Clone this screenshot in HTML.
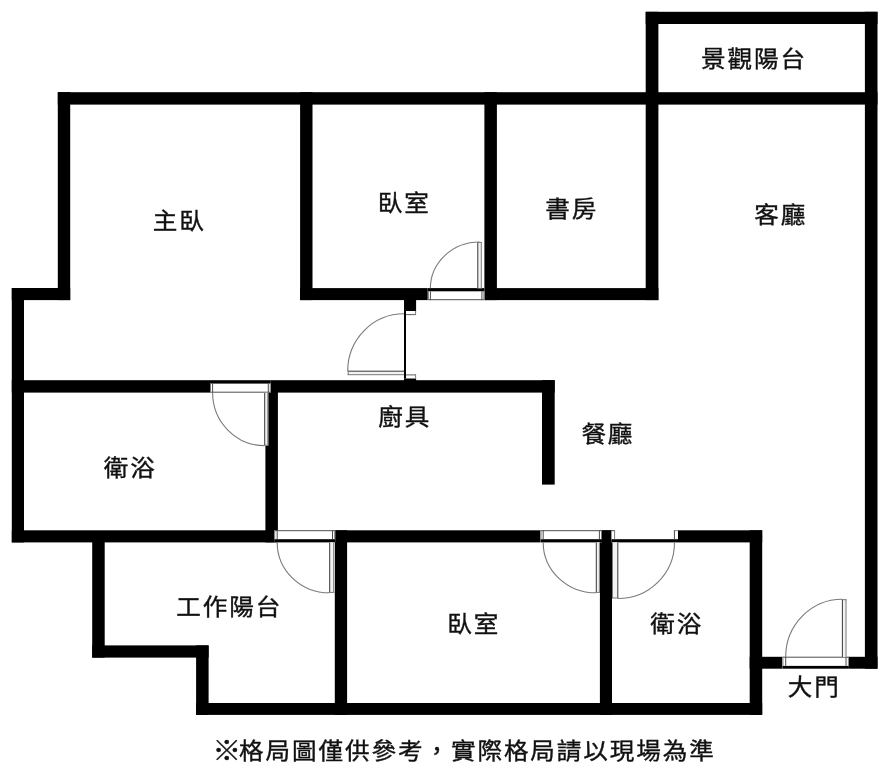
<!DOCTYPE html>
<html lang="zh-Hant">
<head>
<meta charset="utf-8">
<title>格局圖</title>
<style>
html,body{margin:0;padding:0;background:#fff;}
body{width:889px;height:780px;overflow:hidden;}
svg{display:block;will-change:transform;}
text{font-family:"Liberation Sans","Noto Sans CJK TC",sans-serif;font-size:24.6px;letter-spacing:1.9px;fill:#111;stroke:#111;stroke-width:.4px;}
</style>
</head>
<body>
<svg width="889" height="780" viewBox="0 0 889 780">
<rect width="889" height="780" fill="#fff"/>
<g id="walls">
<rect x="645.7" y="11.8" width="231.8" height="12.2" fill="#000"/>
<rect x="57.8" y="92.2" width="819.7" height="12.4" fill="#000"/>
<rect x="11.8" y="288.0" width="58.4" height="12.1" fill="#000"/>
<rect x="300.1" y="288.1" width="127.7" height="12.0" fill="#000"/>
<rect x="484.4" y="288.1" width="174.0" height="12.0" fill="#000"/>
<rect x="11.8" y="380.2" width="198.2" height="12.4" fill="#000"/>
<rect x="270.8" y="380.2" width="283.9" height="12.4" fill="#000"/>
<rect x="11.8" y="530.3" width="262.4" height="12.1" fill="#000"/>
<rect x="335.2" y="530.3" width="205.3" height="12.1" fill="#000"/>
<rect x="599.9" y="530.3" width="12.1" height="12.1" fill="#000"/>
<rect x="678.0" y="530.3" width="84.2" height="12.1" fill="#000"/>
<rect x="92.2" y="645.4" width="116.4" height="12.2" fill="#000"/>
<rect x="196.1" y="703.0" width="566.1" height="11.9" fill="#000"/>
<rect x="749.7" y="656.8" width="32.7" height="11.9" fill="#000"/>
<rect x="848.9" y="656.8" width="28.6" height="11.9" fill="#000"/>
<rect x="645.7" y="11.8" width="12.7" height="288.3" fill="#000"/>
<rect x="864.9" y="11.8" width="12.6" height="656.9" fill="#000"/>
<rect x="57.8" y="92.2" width="12.4" height="207.9" fill="#000"/>
<rect x="11.8" y="288.0" width="12.2" height="254.4" fill="#000"/>
<rect x="300.1" y="92.2" width="12.4" height="207.9" fill="#000"/>
<rect x="484.4" y="92.2" width="12.5" height="207.9" fill="#000"/>
<rect x="404.0" y="300.0" width="12.1" height="11.0" fill="#000"/>
<rect x="404.0" y="378.3" width="12.1" height="2.7" fill="#000"/>
<rect x="265.4" y="392.0" width="12.5" height="150.4" fill="#000"/>
<rect x="542.0" y="380.2" width="12.7" height="104.4" fill="#000"/>
<rect x="92.2" y="542.0" width="12.5" height="115.6" fill="#000"/>
<rect x="196.1" y="645.4" width="12.5" height="69.5" fill="#000"/>
<rect x="334.8" y="530.3" width="12.3" height="184.6" fill="#000"/>
<rect x="599.9" y="530.3" width="12.1" height="184.6" fill="#000"/>
<rect x="749.7" y="530.3" width="12.5" height="184.6" fill="#000"/>
</g>
<g id="doors">
<rect x="404.0" y="311.0" width="2.0" height="67.3" fill="#000"/>
<rect x="406.0" y="311.0" width="10.0" height="3.9" fill="#fff"/>
<line x1="406.0" y1="314.6" x2="416.0" y2="314.6" stroke="#4c4c4c" stroke-width="0.9"/>
<line x1="415.6" y1="311.0" x2="415.6" y2="314.9" stroke="#7c7c7c" stroke-width="1"/>
<rect x="406.0" y="374.6" width="10.0" height="3.7" fill="#fff"/>
<line x1="406.0" y1="374.9" x2="416.0" y2="374.9" stroke="#4c4c4c" stroke-width="0.9"/>
<line x1="415.6" y1="374.6" x2="415.6" y2="378.3" stroke="#7c7c7c" stroke-width="1"/>
<rect x="347.7" y="370.8" width="56.3" height="4.3" fill="#f2f2f2"/>
<line x1="347.7" y1="371.2" x2="404.0" y2="371.2" stroke="#3a3a3a" stroke-width="1"/>
<line x1="347.7" y1="374.7" x2="404.0" y2="374.7" stroke="#7c7c7c" stroke-width="1"/>
<line x1="348.2" y1="370.8" x2="348.2" y2="375.1" stroke="#7c7c7c" stroke-width="1"/>
<path d="M404.0 313.8A56.3 57.2 0 0 0 347.7 371.0" fill="none" stroke="#7a7a7a" stroke-width="1.1"/>
<rect x="427.9" y="288.1" width="56.5" height="12.0" fill="#fff"/>
<rect x="427.9" y="288.1" width="56.5" height="3.2" fill="#000"/>
<line x1="427.9" y1="299.7" x2="484.4" y2="299.7" stroke="#3a3a3a" stroke-width="0.9"/>
<line x1="428.4" y1="291.3" x2="428.4" y2="300.1" stroke="#7c7c7c" stroke-width="1"/>
<line x1="483.9" y1="291.3" x2="483.9" y2="300.1" stroke="#7c7c7c" stroke-width="1"/>
<line x1="430.4" y1="291.3" x2="430.4" y2="300.1" stroke="#4c4c4c" stroke-width="1"/>
<line x1="481.9" y1="291.3" x2="481.9" y2="300.1" stroke="#4c4c4c" stroke-width="1"/>
<rect x="477.3" y="242.0" width="4.5" height="46.3" fill="#f2f2f2"/>
<line x1="477.8" y1="242.0" x2="477.8" y2="288.3" stroke="#3a3a3a" stroke-width="1"/>
<line x1="481.3" y1="242.0" x2="481.3" y2="288.3" stroke="#7c7c7c" stroke-width="1"/>
<line x1="477.3" y1="242.4" x2="481.8" y2="242.4" stroke="#7c7c7c" stroke-width="1"/>
<path d="M479.5 242.0A49.1 46.2 0 0 0 430.4 288.2" fill="none" stroke="#7a7a7a" stroke-width="1.1"/>
<rect x="210.0" y="380.2" width="60.8" height="12.4" fill="#fff"/>
<rect x="210.0" y="380.2" width="60.8" height="3.4" fill="#000"/>
<line x1="210.0" y1="392.2" x2="270.8" y2="392.2" stroke="#3a3a3a" stroke-width="0.9"/>
<line x1="210.5" y1="383.6" x2="210.5" y2="392.6" stroke="#7c7c7c" stroke-width="1"/>
<line x1="270.3" y1="383.6" x2="270.3" y2="392.6" stroke="#7c7c7c" stroke-width="1"/>
<line x1="212.6" y1="383.6" x2="212.6" y2="392.6" stroke="#4c4c4c" stroke-width="1"/>
<line x1="268.3" y1="383.6" x2="268.3" y2="392.6" stroke="#4c4c4c" stroke-width="1"/>
<rect x="264.2" y="392.6" width="4.1" height="53.0" fill="#f2f2f2"/>
<line x1="264.7" y1="392.6" x2="264.7" y2="445.6" stroke="#3a3a3a" stroke-width="1"/>
<line x1="267.8" y1="392.6" x2="267.8" y2="445.6" stroke="#7c7c7c" stroke-width="1"/>
<line x1="264.2" y1="445.2" x2="268.3" y2="445.2" stroke="#7c7c7c" stroke-width="1"/>
<path d="M212.6 392.6A51.8 53.0 0 0 0 264.4 445.6" fill="none" stroke="#7a7a7a" stroke-width="1.1"/>
<rect x="274.2" y="530.3" width="61.0" height="12.1" fill="#fff"/>
<rect x="274.2" y="539.2" width="61.0" height="3.2" fill="#000"/>
<line x1="274.2" y1="530.7" x2="335.2" y2="530.7" stroke="#3a3a3a" stroke-width="0.9"/>
<line x1="274.7" y1="530.3" x2="274.7" y2="539.2" stroke="#7c7c7c" stroke-width="1"/>
<line x1="334.7" y1="530.3" x2="334.7" y2="539.2" stroke="#7c7c7c" stroke-width="1"/>
<line x1="277.2" y1="530.3" x2="277.2" y2="539.2" stroke="#4c4c4c" stroke-width="1"/>
<line x1="332.5" y1="530.3" x2="332.5" y2="539.2" stroke="#4c4c4c" stroke-width="1"/>
<rect x="329.2" y="542.4" width="5.0" height="50.4" fill="#f2f2f2"/>
<line x1="329.7" y1="542.4" x2="329.7" y2="592.8" stroke="#3a3a3a" stroke-width="1"/>
<line x1="333.7" y1="542.4" x2="333.7" y2="592.8" stroke="#7c7c7c" stroke-width="1"/>
<line x1="329.2" y1="592.4" x2="334.2" y2="592.4" stroke="#7c7c7c" stroke-width="1"/>
<path d="M277.2 542.4A52.2 50.4 0 0 0 329.4 592.8" fill="none" stroke="#7a7a7a" stroke-width="1.1"/>
<rect x="540.5" y="530.3" width="61.5" height="12.1" fill="#fff"/>
<rect x="540.5" y="539.2" width="61.5" height="3.2" fill="#000"/>
<line x1="540.5" y1="530.7" x2="602.0" y2="530.7" stroke="#3a3a3a" stroke-width="0.9"/>
<line x1="541.0" y1="530.3" x2="541.0" y2="539.2" stroke="#7c7c7c" stroke-width="1"/>
<line x1="601.5" y1="530.3" x2="601.5" y2="539.2" stroke="#7c7c7c" stroke-width="1"/>
<line x1="543.2" y1="530.3" x2="543.2" y2="539.2" stroke="#4c4c4c" stroke-width="1"/>
<line x1="599.4" y1="530.3" x2="599.4" y2="539.2" stroke="#4c4c4c" stroke-width="1"/>
<rect x="595.8" y="542.4" width="4.1" height="50.4" fill="#f2f2f2"/>
<line x1="596.3" y1="542.4" x2="596.3" y2="592.8" stroke="#3a3a3a" stroke-width="1"/>
<line x1="599.4" y1="542.4" x2="599.4" y2="592.8" stroke="#7c7c7c" stroke-width="1"/>
<line x1="595.8" y1="592.4" x2="599.9" y2="592.4" stroke="#7c7c7c" stroke-width="1"/>
<path d="M543.2 542.4A52.8 50.4 0 0 0 596.0 592.8" fill="none" stroke="#7a7a7a" stroke-width="1.1"/>
<rect x="611.4" y="530.3" width="66.6" height="12.1" fill="#fff"/>
<rect x="611.4" y="539.2" width="66.6" height="3.2" fill="#000"/>
<line x1="611.4" y1="530.7" x2="615.0" y2="530.7" stroke="#3a3a3a" stroke-width="0.9"/>
<line x1="614.6" y1="530.3" x2="614.6" y2="539.2" stroke="#7c7c7c" stroke-width="1"/>
<line x1="674.0" y1="530.7" x2="678.0" y2="530.7" stroke="#7c7c7c" stroke-width="0.9"/>
<line x1="674.4" y1="530.3" x2="674.4" y2="539.2" stroke="#4c4c4c" stroke-width="1"/>
<rect x="612.0" y="542.4" width="6.3" height="56.0" fill="#f2f2f2"/>
<line x1="612.5" y1="542.4" x2="612.5" y2="598.4" stroke="#7c7c7c" stroke-width="1"/>
<line x1="617.8" y1="542.4" x2="617.8" y2="598.4" stroke="#3a3a3a" stroke-width="1"/>
<line x1="612.0" y1="598.0" x2="618.3" y2="598.0" stroke="#7c7c7c" stroke-width="1"/>
<path d="M674.5 542.4A56.5 56.1 0 0 1 618.0 598.5" fill="none" stroke="#7a7a7a" stroke-width="1.1"/>
<rect x="782.4" y="656.8" width="66.5" height="11.9" fill="#fff"/>
<rect x="782.4" y="665.9" width="66.5" height="2.8" fill="#000"/>
<line x1="782.4" y1="657.2" x2="848.9" y2="657.2" stroke="#3a3a3a" stroke-width="0.9"/>
<line x1="782.9" y1="656.8" x2="782.9" y2="665.9" stroke="#7c7c7c" stroke-width="1"/>
<line x1="848.4" y1="656.8" x2="848.4" y2="665.9" stroke="#7c7c7c" stroke-width="1"/>
<line x1="785.7" y1="656.8" x2="785.7" y2="665.9" stroke="#4c4c4c" stroke-width="1"/>
<line x1="846.0" y1="656.8" x2="846.0" y2="665.9" stroke="#4c4c4c" stroke-width="1"/>
<rect x="841.9" y="599.3" width="4.6" height="57.7" fill="#f2f2f2"/>
<line x1="842.4" y1="599.3" x2="842.4" y2="657.0" stroke="#3a3a3a" stroke-width="1"/>
<line x1="846.0" y1="599.3" x2="846.0" y2="657.0" stroke="#7c7c7c" stroke-width="1"/>
<line x1="841.9" y1="599.7" x2="846.5" y2="599.7" stroke="#7c7c7c" stroke-width="1"/>
<path d="M842.2 599.3A56.5 57.7 0 0 0 785.7 657.0" fill="none" stroke="#7a7a7a" stroke-width="1.1"/>
</g>
<g id="labels">
<text transform="translate(701.08 66.62) scale(1 0.925)">景觀陽台</text>
<text transform="translate(152.80 228.80) scale(1 0.925)">主臥</text>
<text transform="translate(377.85 211.35) scale(1 0.925)">臥室</text>
<text transform="translate(545.20 217.45) scale(1 0.925)">書房</text>
<text transform="translate(754.27 223.45) scale(1 0.925)">客廳</text>
<text transform="translate(378.35 424.85) scale(1 0.925)">廚具</text>
<text transform="translate(581.38 442.20) scale(1 0.925)">餐廳</text>
<text transform="translate(103.80 476.25) scale(1 0.925)">衛浴</text>
<text transform="translate(176.27 614.73) scale(1 0.925)">工作陽台</text>
<text transform="translate(447.25 632.20) scale(1 0.925)">臥室</text>
<text transform="translate(650.25 631.95) scale(1 0.925)">衛浴</text>
<text transform="translate(787.68 695.20) scale(1 0.925)">大門</text>
<text transform="translate(214.08 758.75) scale(1 0.925)"><tspan font-size="28.6" letter-spacing="-2.1" dx="-1.6" dy="1.5">※</tspan><tspan dy="-1.5">格局圖僅供參考，實際格局請以現場為準</tspan></text>
</g>
</svg>
</body>
</html>
